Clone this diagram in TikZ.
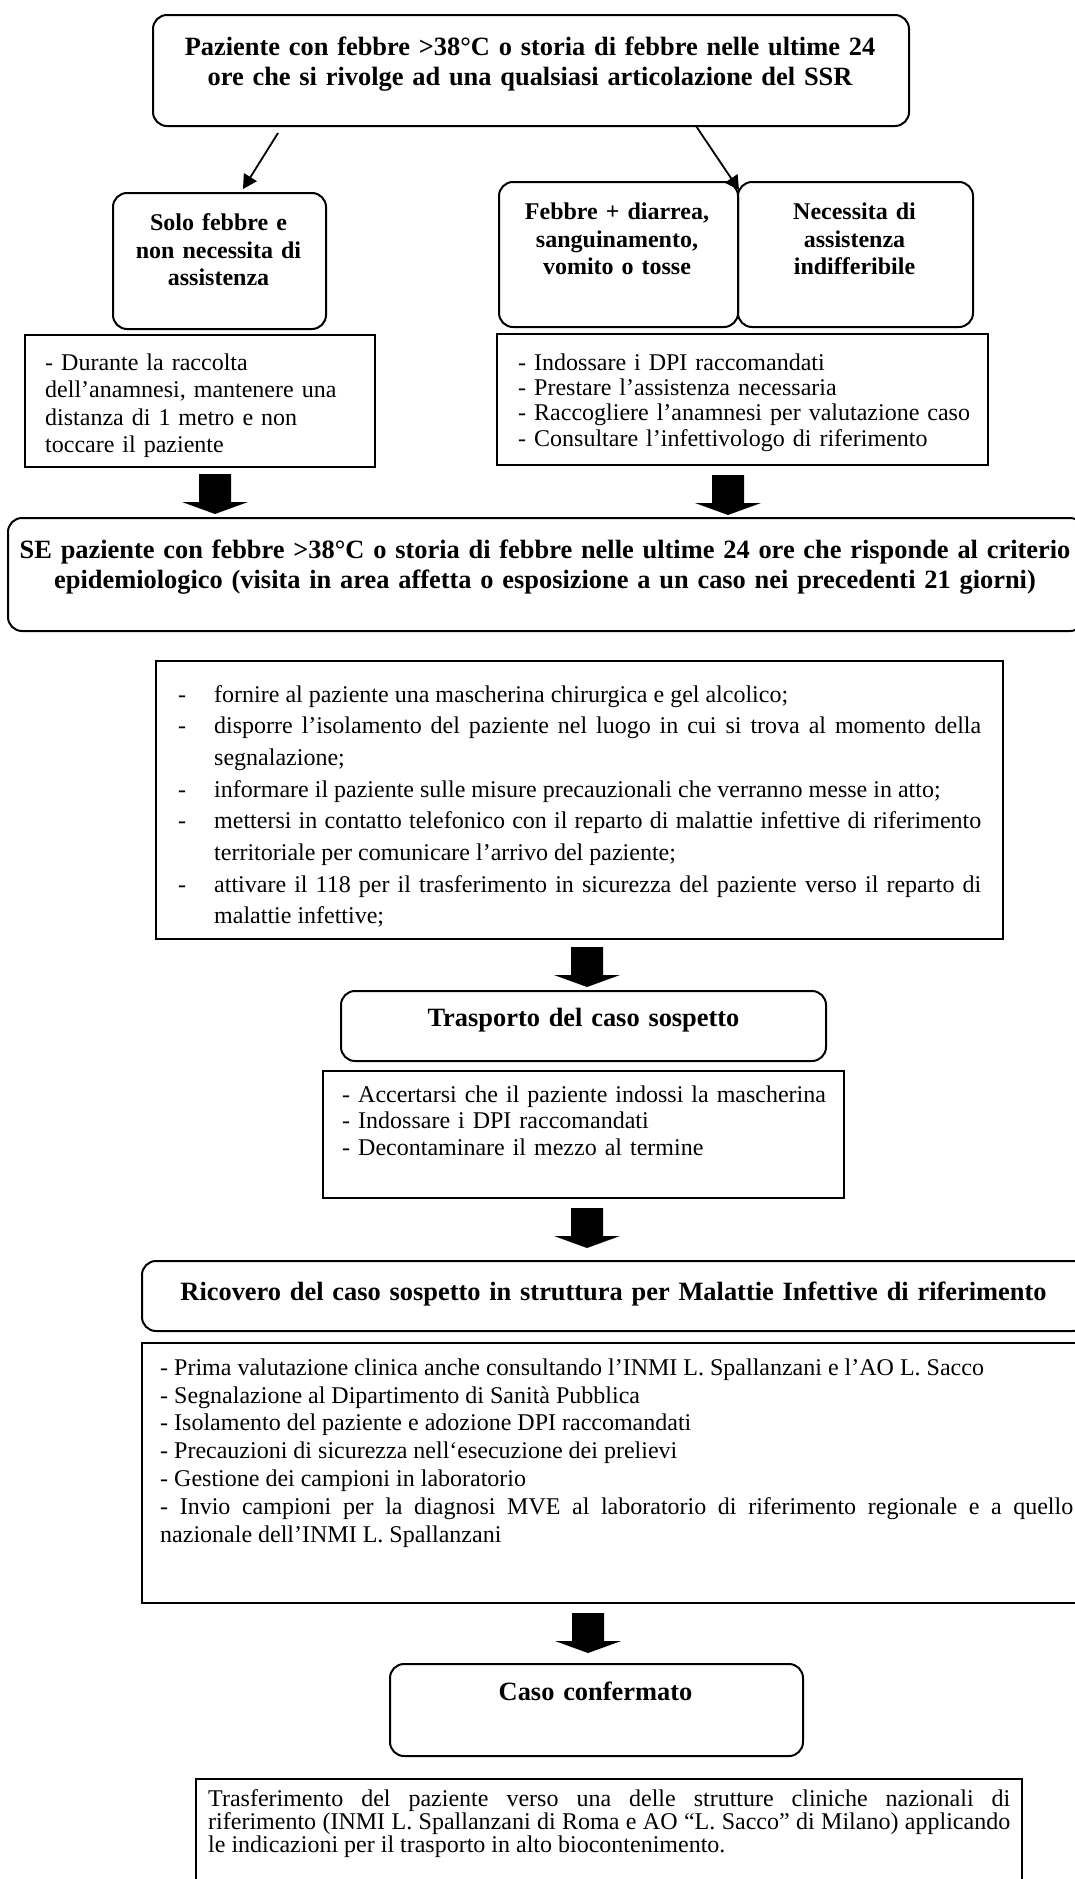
\documentclass[tikz,border=0pt]{standalone}
\usepackage{fontspec}
\setmainfont{Liberation Serif}
\usetikzlibrary{arrows.meta,calc}
\newcommand\Rt{\rule{0pt}{20pt}}
\newcommand\Rb{\rule{0pt}{18pt}}
\newcommand\itm{\leavevmode\llap{\makebox[36pt][l]{-}}}
\newcommand\blockarrow[3]{%
  \coordinate (#1) at (#2,#3);
  \fill (#1) ++(-16,0) -- ++(32,0) -- ++(0,28) -- ++(17,0) -- ++(-33,12) -- ++(-33,-12) -- ++(17,0) -- cycle;}
\begin{document}
\begin{tikzpicture}[x=1pt,y=-1pt,
  rbox/.style={draw, line width=2pt, rounded corners=14pt, inner sep=0pt, anchor=north west},
  sbox/.style={draw, line width=2pt, inner sep=0pt, anchor=north west},
  head/.style={inner sep=0pt, anchor=north, align=center, font=\fontsize{26.4}{30}\selectfont\bfseries},
  smallhead/.style={inner sep=0pt, anchor=north, align=center, font=\fontsize{24}{27.8}\selectfont\bfseries},
  body/.style={inner sep=0pt, anchor=north west, align=left, font=\fontsize{24}{27.5}\selectfont},
  jbody/.style={inner sep=0pt, anchor=north west, align=justify, font=\fontsize{24}{27.5}\selectfont\parindent=0pt\parskip=0pt},
  conn/.style={line width=1.8pt, -{Triangle[length=14pt,width=15pt]}}
]
\useasboundingbox (0,0) rectangle (1075,1879);

% boxes
\node[rbox, minimum width=756pt, minimum height=111pt] (top) at (152,14) {};
\node[rbox, minimum width=213pt, minimum height=136pt] (solo) at (112,192) {};
\node[rbox, minimum width=239pt, minimum height=145pt] (febbre) at (498,181) {};
\node[rbox, minimum width=235pt, minimum height=145pt] (neces) at (737,181) {};
\node[sbox, minimum width=350pt, minimum height=132pt] (lt) at (24,334) {};
\node[sbox, minimum width=491pt, minimum height=131pt] (rt) at (496,333) {};
\node[rbox, minimum width=1076pt, minimum height=113pt] (se) at (7,517) {};
\node[sbox, minimum width=847pt, minimum height=278pt] (list) at (155,660) {};
\node[rbox, minimum width=485pt, minimum height=70pt] (trasp) at (340,990) {};
\node[sbox, minimum width=521pt, minimum height=127pt] (traspt) at (322,1070) {};
\node[rbox, minimum width=945pt, minimum height=70pt] (ricov) at (141,1260) {};
\node[sbox, minimum width=945pt, minimum height=260pt] (ricovt) at (141,1342) {};
\node[rbox, minimum width=413pt, minimum height=92pt] (caso) at (389,1663) {};
\node[sbox, minimum width=826pt, minimum height=140pt] (final) at (195,1778) {};

% texts
\node[head, text width=740pt] (toptxt) at (530,35) {\Rt Paziente con febbre >38°C o storia di febbre nelle ultime 24\\ore che si rivolge ad una qualsiasi articolazione del SSR};
\node[smallhead, text width=205pt] (solotxt) at (218.5,212) {\Rb Solo febbre e\\non necessita di\\assistenza};
\node[smallhead, text width=230pt] (febbretxt) at (617,201) {\Rb Febbre + diarrea,\\sanguinamento,\\vomito o tosse};
\node[smallhead, text width=230pt] (necestxt) at (854.5,201) {\Rb Necessita di\\assistenza\\indifferibile};
\node[body, text width=325pt] (lttxt) at (45,352) {\Rb - Durante la raccolta\\dell’anamnesi, mantenere una\\distanza di 1 metro e non\\toccare il paziente};
\node[body, text width=465pt, font=\fontsize{24}{25.3}\selectfont] (rttxt) at (518,352) {\Rb - Indossare i DPI raccomandati\\- Prestare l’assistenza necessaria\\- Raccogliere l’anamnesi per valutazione caso\\- Consultare l’infettivologo di riferimento};
\node[head, text width=1070pt] (setxt) at (545,538) {\Rt SE paziente con febbre >38°C o storia di febbre nelle ultime 24 ore che risponde al criterio\\epidemiologico (visita in area affetta o esposizione a un caso nei precedenti 21 giorni)};
\node[jbody, text width=767pt, font=\fontsize{24}{31.67}\selectfont] (listtxt) at (214,684) {\Rb\itm fornire al paziente una mascherina chirurgica e gel alcolico;\par
\itm disporre l’isolamento del paziente nel luogo in cui si trova al momento della\linebreak segnalazione;\par
\itm informare il paziente sulle misure precauzionali che verranno messe in atto;\par
\itm mettersi in contatto telefonico con il reparto di malattie infettive di riferimento\linebreak territoriale per comunicare l’arrivo del paziente;\par
\itm attivare il 118 per il trasferimento in sicurezza del paziente verso il reparto di\linebreak malattie infettive;};
\node[head, text width=480pt] (trasptxt) at (583.5,1006) {\Rt Trasporto del caso sospetto};
\node[body, text width=495pt, font=\fontsize{24}{26.67}\selectfont] (trasptt) at (342,1084) {\Rb - Accertarsi che il paziente indossi la mascherina\\- Indossare i DPI raccomandati\\- Decontaminare il mezzo al termine};
\node[head, text width=940pt] (ricovtxt) at (613.5,1280) {\Rt Ricovero del caso sospetto in struttura per Malattie Infettive di riferimento};
\node[jbody, text width=913pt, font=\fontsize{24}{27.8}\selectfont] (ricovtt) at (160,1357) {\Rb - Prima valutazione clinica anche consultando l’INMI L. Spallanzani e l’AO L. Sacco\par
- Segnalazione al Dipartimento di Sanità Pubblica\par
- Isolamento del paziente e adozione DPI raccomandati\par
- Precauzioni di sicurezza nell‘esecuzione dei prelievi\par
- Gestione dei campioni in laboratorio\par
- Invio campioni per la diagnosi MVE al laboratorio di riferimento regionale e a quello\linebreak nazionale dell’INMI L. Spallanzani};
\node[head, text width=400pt] (casotxt) at (595.5,1680) {\Rt Caso confermato};
\node[jbody, text width=802pt, font=\fontsize{24}{23}\selectfont] (finaltxt) at (208,1788) {\Rb Trasferimento del paziente verso una delle strutture cliniche nazionali di\linebreak riferimento (INMI L. Spallanzani di Roma e AO “L. Sacco” di Milano) applicando\linebreak le indicazioni per il trasporto in alto biocontenimento.};

% thin arrows
\draw[conn] ($(top.south west)+(126,6)$) -- ($(solo.north west)+(131,-3)$);
\draw[conn] ($(top.south west)+(544,-1)$) -- ($(febbre.north east)+(0,9)$);

% block arrows
\blockarrow{a1}{215}{474}
\blockarrow{a2}{728}{475}
\blockarrow{a3}{587}{947}
\blockarrow{a4}{587}{1208}
\blockarrow{a5}{588}{1613}
\end{tikzpicture}
\end{document}
